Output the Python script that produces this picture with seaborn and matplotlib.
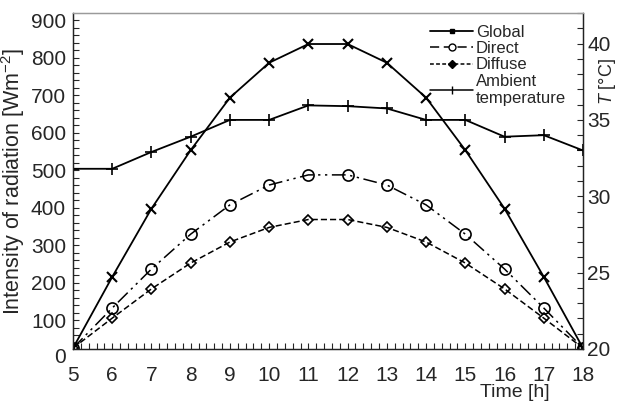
import numpy as np
import pandas as pd
import seaborn as sns
import matplotlib.pyplot as plt
import matplotlib.transforms as mtransforms
from matplotlib.ticker import MultipleLocator
from matplotlib.lines import Line2D

# values (hours 5..18)
hours = list(range(5, 19))
global_rad = [25, 215, 397, 553, 693, 786, 836, 836, 786, 693, 553, 397, 215, 25]
direct_rad = [25, 132, 236, 329, 407, 460, 487, 487, 460, 407, 329, 236, 132, 25]
diffuse_rad = [25, 105, 183, 252, 308, 347, 368, 368, 347, 308, 252, 183, 105, 25]
ambient_temp = [31.8, 31.8, 32.9, 33.9, 35.0, 35.0, 35.95, 35.9, 35.75, 35.0, 35.0, 33.9, 34.0, 33.0]

legend_labels = ['Global', 'Direct', 'Diffuse', 'Ambient\ntemperature']

sns.set_style('ticks')
plt.rcParams['font.family'] = ['Liberation Sans', 'DejaVu Sans']
plt.rcParams['mathtext.fontset'] = 'custom'
plt.rcParams['mathtext.rm'] = 'Liberation Sans'
plt.rcParams['mathtext.it'] = 'Liberation Sans:italic'

fig = plt.figure(figsize=(6.2, 4.05), dpi=100)
ax = fig.add_axes([73 / 620, 1 - 349 / 405, 510 / 620, 336 / 405])
ax2 = ax.twinx()

# radiation on the left axis
sns.lineplot(x=hours, y=global_rad, ax=ax, color='k', lw=1.3,
             marker='x', markersize=7, markeredgewidth=1.5, markeredgecolor='k')
sns.lineplot(x=hours, y=direct_rad, ax=ax, color='k', lw=1.1,
             linestyle=(0, (9, 3, 1.5, 3, 1.5, 3)),
             marker='o', markersize=8, markerfacecolor='none',
             markeredgecolor='k', markeredgewidth=1.2)
sns.lineplot(x=hours, y=diffuse_rad, ax=ax, color='k', lw=1.1,
             linestyle=(0, (4, 2)),
             marker='D', markersize=5, markerfacecolor='none',
             markeredgecolor='k', markeredgewidth=1.2)

# temperature on the right axis
sns.lineplot(x=hours, y=ambient_temp, ax=ax2, color='k', lw=1.3,
             marker='+', markersize=9, markeredgewidth=1.2, markeredgecolor='k')

# axes setup
ax.set_xlim(5, 18)
ax.set_xticks(hours)
ax.xaxis.set_minor_locator(MultipleLocator(0.2))
ax.set_ylim(22.7, 918.7)
ax.set_yticks(range(100, 1000, 100))
ax.yaxis.set_minor_locator(MultipleLocator(20))
ax.tick_params(axis='x', which='both', direction='in', length=4, width=0.8,
               top=False, labelsize=15, pad=12)
ax.tick_params(axis='y', which='both', direction='in', length=4, width=0.8,
               right=False, labelsize=15, pad=5)

ax2.set_ylim(20, 42)
ax2.set_yticks([20, 25, 30, 35, 40])
ax2.yaxis.set_minor_locator(MultipleLocator(1))
ax2.tick_params(axis='y', which='both', direction='in', length=4, width=0.8,
                labelsize=15, pad=3)

for a in (ax, ax2):
    a.spines['top'].set_color('#9a9a9a')
    for s in ('left', 'bottom', 'right'):
        a.spines[s].set_color('#222222')
    for s in a.spines.values():
        s.set_linewidth(0.9)

# the "0" label sits below the box in the original
trans = mtransforms.blended_transform_factory(ax.transAxes, ax.transData)
ax.text(-0.014, 0, '0', transform=trans, ha='right', va='center',
        fontsize=15, clip_on=False)

ax.set_ylabel('Intensity of radiation [Wm$^{-2}$]', fontsize=15.5, labelpad=3)
ax.set_xlabel('Time [h]', fontsize=14)
ax.xaxis.set_label_coords(0.867, -0.105)
ax2.set_ylabel('')
# right axis title sits between the 40 and 35 labels
fig.text(607 / 620, 1 - 82 / 405, '$T$ [°C]', rotation=90,
         ha='center', va='center', fontsize=13)

handles = [
    Line2D([], [], color='k', lw=1.3, marker='s', markersize=3.5),
    Line2D([], [], color='k', lw=1.1, linestyle=(0, (6, 3)),
           marker='o', markersize=5, markerfacecolor='white'),
    Line2D([], [], color='k', lw=1.1, linestyle=(0, (2.5, 1.5)),
           marker='D', markersize=4),
    Line2D([], [], color='k', lw=1.1, marker='|', markersize=6),
]
ax2.legend(handles, legend_labels, loc='upper left', bbox_to_anchor=(0.70, 0.965),
           frameon=False, fontsize=12, labelspacing=0.08, handlelength=2.6,
           handletextpad=0.15, borderpad=0, borderaxespad=0)

fig.savefig('out.png', dpi=100)
